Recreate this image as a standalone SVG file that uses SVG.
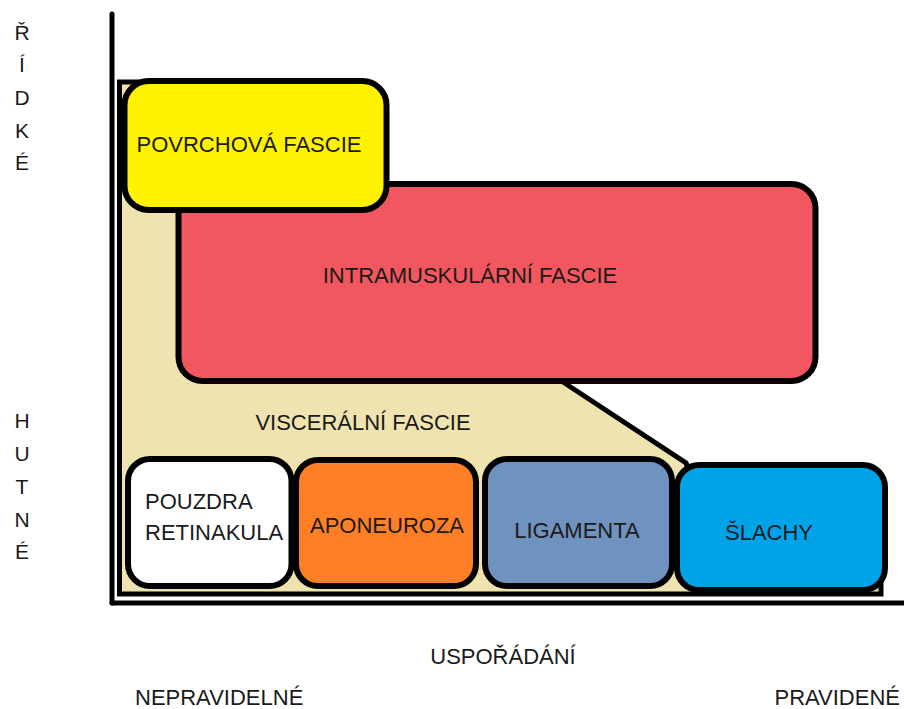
<svg xmlns="http://www.w3.org/2000/svg" width="904" height="709" viewBox="0 0 904 709">
  <style>
    .box { stroke: #000; stroke-width: 6; }
    .lbl { font-family: "Liberation Sans", Arial, sans-serif; font-size: 22px; fill: #1a1a1a; }
    .side { font-size: 21px; }
    .mid { text-anchor: middle; }
    .axis { stroke: #000; stroke-width: 5; fill: none; stroke-linecap: round; }
  </style>
  <rect width="904" height="709" fill="#fff"/>

  <g id="axes">
    <line class="axis" x1="112" y1="14" x2="112" y2="603"/>
    <line class="axis" x1="112" y1="603" x2="906" y2="603"/>
  </g>

  <g id="visceralni-fascie">
    <polygon points="119.5,82 300,82 300,300 563,300 563,382 686,463 700,500 881,500 881,594 119.5,594" fill="#EFE4B0" stroke="#000" stroke-width="5" stroke-linejoin="miter"/>
    <text class="lbl mid" x="363" y="430">VISCERÁLNÍ FASCIE</text>
  </g>

  <g id="intramuskularni-fascie">
    <rect class="box" x="178.5" y="184" width="637" height="197" rx="24" fill="#F2575F"/>
    <text class="lbl mid" x="470" y="283">INTRAMUSKULÁRNÍ FASCIE</text>
  </g>

  <g id="povrchova-fascie">
    <rect class="box" x="124.5" y="81" width="262" height="129" rx="24" fill="#FFF200"/>
    <text class="lbl mid" x="249" y="152">POVRCHOVÁ FASCIE</text>
  </g>

  <g id="pouzdra-retinakula">
    <rect class="box" x="128" y="459" width="163.5" height="127" rx="22" fill="#fff"/>
    <text class="lbl" x="145" y="509">POUZDRA</text>
    <text class="lbl" x="145" y="540">RETINAKULA</text>
  </g>

  <g id="aponeuroza">
    <rect class="box" x="296" y="460" width="180" height="126" rx="22" fill="#FF7F27"/>
    <text class="lbl mid" x="387" y="533">APONEUROZA</text>
  </g>

  <g id="ligamenta">
    <rect class="box" x="485" y="459" width="187" height="127" rx="22" fill="#7092BE"/>
    <text class="lbl mid" x="577" y="538">LIGAMENTA</text>
  </g>

  <g id="slachy">
    <rect class="box" x="677" y="465" width="208" height="125" rx="22" fill="#00A2E8"/>
    <text class="lbl mid" x="769" y="540">ŠLACHY</text>
  </g>

  <g id="labels">
    <text class="lbl side mid" x="22" y="40">Ř</text>
    <text class="lbl side mid" x="22" y="72">Í</text>
    <text class="lbl side mid" x="22" y="105">D</text>
    <text class="lbl side mid" x="22" y="138">K</text>
    <text class="lbl side mid" x="22" y="170">É</text>
    <text class="lbl side mid" x="22" y="428">H</text>
    <text class="lbl side mid" x="22" y="461">U</text>
    <text class="lbl side mid" x="22" y="494">T</text>
    <text class="lbl side mid" x="22" y="527">N</text>
    <text class="lbl side mid" x="22" y="559">É</text>
    <text class="lbl mid" x="503" y="664">USPOŘÁDÁNÍ</text>
    <text class="lbl" x="135" y="705">NEPRAVIDELNÉ</text>
    <text class="lbl" x="900" y="705" text-anchor="end">PRAVIDENÉ</text>
  </g>
</svg>
